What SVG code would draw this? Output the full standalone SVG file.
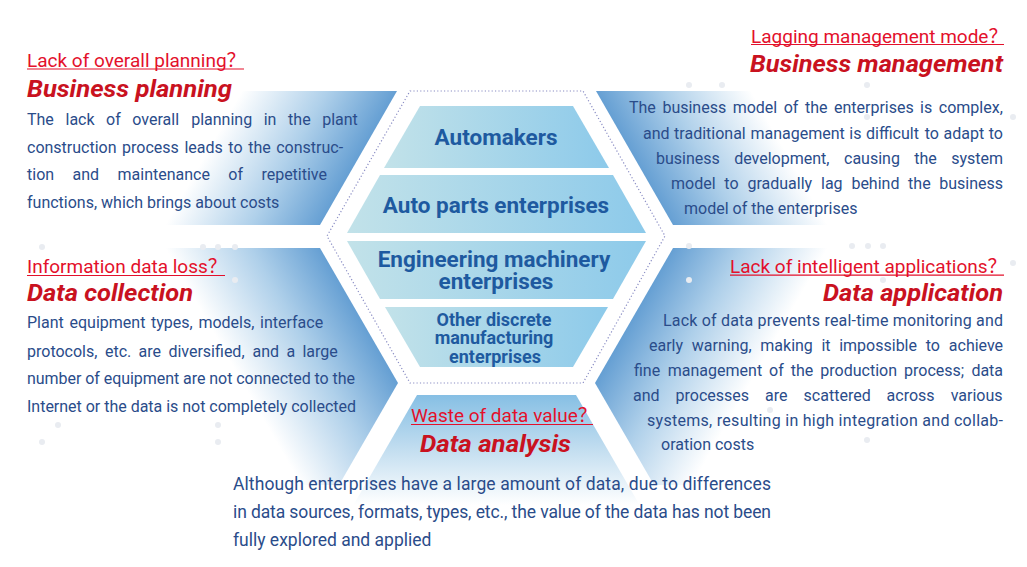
<svg xmlns="http://www.w3.org/2000/svg" width="1027" height="567" viewBox="0 0 1027 567">
<style>
.body{font-family:Roboto,"Liberation Sans",sans-serif;font-size:16px;fill:#2a4c8a}
.bbody{font-family:Roboto,"Liberation Sans",sans-serif;font-size:17.5px;fill:#2a4c8a}
.sub{font-family:Roboto,"Liberation Sans","Noto Sans CJK SC",sans-serif;font-size:19px;fill:#e3102b}
.title{font-family:Roboto,"Liberation Sans",sans-serif;font-size:24px;font-weight:bold;font-style:italic;fill:#c9121f}
.band{font-family:Roboto,"Liberation Sans",sans-serif;font-size:22.5px;font-weight:bold;fill:#1e5aa0;text-anchor:middle}
.bandS{font-family:Roboto,"Liberation Sans",sans-serif;font-size:18px;font-weight:bold;fill:#1e5aa0;text-anchor:middle}
.ul{stroke:#e3102b;stroke-width:1.2}
.dot{fill:#e9ecf1}
</style>
<defs>
<linearGradient id="gBand" x1="0" y1="0" x2="1" y2="0">
<stop offset="0" stop-color="#c2e2e9"/>
<stop offset="1" stop-color="#8dcaea"/>
</linearGradient>
<linearGradient id="gTL" gradientUnits="userSpaceOnUse" x1="359" y1="158" x2="242" y2="91">
<stop offset="0" stop-color="#659fd3"/><stop offset="0.45" stop-color="#afd0ea"/><stop offset="1" stop-color="#ffffff"/>
</linearGradient>
<linearGradient id="gTR" gradientUnits="userSpaceOnUse" x1="634" y1="158" x2="751" y2="91">
<stop offset="0" stop-color="#659fd3"/><stop offset="0.45" stop-color="#afd0ea"/><stop offset="1" stop-color="#ffffff"/>
</linearGradient>
<linearGradient id="gML" gradientUnits="userSpaceOnUse" x1="359" y1="315" x2="242" y2="382">
<stop offset="0" stop-color="#659fd3"/><stop offset="0.45" stop-color="#afd0ea"/><stop offset="1" stop-color="#ffffff"/>
</linearGradient>
<linearGradient id="gMR" gradientUnits="userSpaceOnUse" x1="634" y1="315" x2="751" y2="382">
<stop offset="0" stop-color="#659fd3"/><stop offset="0.45" stop-color="#afd0ea"/><stop offset="1" stop-color="#ffffff"/>
</linearGradient>
<linearGradient id="gB" gradientUnits="userSpaceOnUse" x1="0" y1="395" x2="0" y2="505">
<stop offset="0" stop-color="#86bfe4"/><stop offset="0.5" stop-color="#c3def0"/><stop offset="1" stop-color="#ffffff"/>
</linearGradient>
</defs>
<rect width="1027" height="567" fill="#ffffff"/>

<g id="segments">
<polygon points="0,91 397,91 320,225 0,225" fill="url(#gTL)"/>
<polygon points="596,91 1027,91 1027,225 673,225" fill="url(#gTR)"/>
<polygon points="0,248 320,248 398,383 339,485 0,485" fill="url(#gML)"/>
<polygon points="1027,248 673,248 595,383 654,485 1027,485" fill="url(#gMR)"/>
<polygon points="417,395 576,395 650,523 343,523" fill="url(#gB)"/>
</g>

<g id="dots">
<circle class="dot" cx="689" cy="85" r="3"/><circle class="dot" cx="722" cy="85" r="3"/><circle class="dot" cx="867" cy="85" r="3"/>
<circle class="dot" cx="1013" cy="117" r="3"/><circle class="dot" cx="867" cy="117" r="3"/>
<circle class="dot" cx="42" cy="247" r="3"/><circle class="dot" cx="203" cy="247" r="3"/><circle class="dot" cx="218" cy="247" r="3"/><circle class="dot" cx="235" cy="247" r="3"/>
<circle class="dot" cx="235" cy="280" r="3"/><circle class="dot" cx="58" cy="425" r="3"/><circle class="dot" cx="218" cy="425" r="3"/>
<circle class="dot" cx="42" cy="442" r="3"/><circle class="dot" cx="218" cy="442" r="3"/>
<circle class="dot" cx="689" cy="246" r="3"/><circle class="dot" cx="852" cy="246" r="3"/><circle class="dot" cx="868" cy="246" r="3"/><circle class="dot" cx="883" cy="246" r="3"/>
<circle class="dot" cx="1013" cy="263" r="3"/><circle class="dot" cx="689" cy="280" r="3"/><circle class="dot" cx="883" cy="280" r="3"/>
<circle class="dot" cx="770" cy="410" r="3"/><circle class="dot" cx="867" cy="440" r="3"/>
</g>

<g id="center-hexagon">
<polygon points="410,91 583,91 665,236 583,383 410,383 327,236" fill="none" stroke="#8a8dc4" stroke-width="1.2" stroke-dasharray="1.2 2.2"/>
</g>

<g id="node-automakers">
<polygon points="420,106 573,106 609,168 384,168" fill="url(#gBand)"/>
<text class="band" x="496" y="145">Automakers</text>
</g>
<g id="node-auto-parts">
<polygon points="380,175 613,175 646,233 347,233" fill="url(#gBand)"/>
<text class="band" x="496" y="213">Auto parts enterprises</text>
</g>
<g id="node-engineering">
<polygon points="347,241 646,241 613,299 380,299" fill="url(#gBand)"/>
<text class="band" x="494" y="267">Engineering machinery</text>
<text class="band" x="496" y="289">enterprises</text>
</g>
<g id="node-other">
<polygon points="385,307 608,307 573,367 420,367" fill="url(#gBand)"/>
<text class="bandS" x="494" y="326">Other discrete</text>
<text class="bandS" x="494" y="344">manufacturing</text>
<text class="bandS" x="495" y="363">enterprises</text>
</g>

<g id="business-planning">
<text class="sub" x="27" y="66.5">Lack of overall planning？</text>
<line class="ul" x1="27" y1="69" x2="244" y2="69"/>
<text class="title" x="27" y="97" textLength="205" lengthAdjust="spacingAndGlyphs">Business planning</text>
<text class="body" y="125"><tspan x="27">The</tspan><tspan x="65.5">lack</tspan><tspan x="106">of</tspan><tspan x="132.3">overall</tspan><tspan x="191.2">planning</tspan><tspan x="263.7">in</tspan><tspan x="288.1">the</tspan><tspan x="322.2">plant</tspan></text>
<text class="body" y="152.7"><tspan x="27">construction</tspan><tspan x="122">process</tspan><tspan x="184.4">leads</tspan><tspan x="228.3">to</tspan><tspan x="248.2">the</tspan><tspan x="276.2">construc-</tspan></text>
<text class="body" y="180.4"><tspan x="27">tion</tspan><tspan x="72.5">and</tspan><tspan x="117.5">maintenance</tspan><tspan x="228.3">of</tspan><tspan x="261.4">repetitive</tspan></text>
<text class="body" x="27" y="208">functions, which brings about costs</text>
</g>

<g id="business-management">
<text class="sub" x="751" y="42.5">Lagging management mode？</text>
<line class="ul" x1="751" y1="44.5" x2="1004" y2="44.5"/>
<text class="title" x="750" y="72" textLength="253" lengthAdjust="spacingAndGlyphs">Business management</text>
<text class="body" y="113.3"><tspan x="629">The</tspan><tspan x="662.4">business</tspan><tspan x="732.7">model</tspan><tspan x="783.7">of</tspan><tspan x="804.9">the</tspan><tspan x="834">enterprises</tspan><tspan x="920.1">is</tspan><tspan x="938.8">complex,</tspan></text>
<text class="body" y="138.7"><tspan x="643">and</tspan><tspan x="674.1">traditional</tspan><tspan x="750.5">management</tspan><tspan x="849.3">is</tspan><tspan x="866">difficult</tspan><tspan x="924.7">to</tspan><tspan x="943.6">adapt</tspan><tspan x="988.7">to</tspan></text>
<text class="body" y="164"><tspan x="656">business</tspan><tspan x="734.2">development,</tspan><tspan x="844">causing</tspan><tspan x="914.2">the</tspan><tspan x="951.2">system</tspan></text>
<text class="body" y="189"><tspan x="671">model</tspan><tspan x="724.3">to</tspan><tspan x="747.4">gradually</tspan><tspan x="821">lag</tspan><tspan x="851.4">behind</tspan><tspan x="908.1">the</tspan><tspan x="939.3">business</tspan></text>
<text class="body" x="684" y="214">model of the enterprises</text>
</g>

<g id="data-collection">
<text class="sub" x="27" y="273">Information data loss？</text>
<line class="ul" x1="27" y1="275.5" x2="225" y2="275.5"/>
<text class="title" x="27" y="301" textLength="166" lengthAdjust="spacingAndGlyphs">Data collection</text>
<text class="body" y="328.3"><tspan x="27">Plant</tspan><tspan x="69.5">equipment</tspan><tspan x="151">types,</tspan><tspan x="198.4">models,</tspan><tspan x="260">interface</tspan></text>
<text class="body" y="356.5"><tspan x="27">protocols,</tspan><tspan x="105">etc.</tspan><tspan x="138.5">are</tspan><tspan x="168.4">diversified,</tspan><tspan x="252.5">and</tspan><tspan x="286.4">a</tspan><tspan x="302.4">large</tspan></text>
<text class="body" x="27" y="384.3" textLength="328" lengthAdjust="spacing">number of equipment are not connected to the</text>
<text class="body" x="27" y="411.7" textLength="329" lengthAdjust="spacing">Internet or the data is not completely collected</text>
</g>

<g id="data-application">
<text class="sub" x="730" y="272.7">Lack of intelligent applications？</text>
<line class="ul" x1="730" y1="275.2" x2="1004" y2="275.2"/>
<text class="title" x="823" y="301" textLength="180" lengthAdjust="spacingAndGlyphs">Data application</text>
<text class="body" x="663" y="325.7" textLength="340" lengthAdjust="spacing">Lack of data prevents real-time monitoring and</text>
<text class="body" y="350.7"><tspan x="649">early</tspan><tspan x="691.8">warning,</tspan><tspan x="760.3">making</tspan><tspan x="821.4">it</tspan><tspan x="839.2">impossible</tspan><tspan x="925.7">to</tspan><tspan x="948.8">achieve</tspan></text>
<text class="body" y="375.7"><tspan x="634">fine</tspan><tspan x="667.8">management</tspan><tspan x="769">of</tspan><tspan x="790.8">the</tspan><tspan x="820.3">production</tspan><tspan x="904.1">process;</tspan><tspan x="971.4">data</tspan></text>
<text class="body" y="400.7"><tspan x="633">and</tspan><tspan x="675.5">processes</tspan><tspan x="765">are</tspan><tspan x="803.6">scattered</tspan><tspan x="886.6">across</tspan><tspan x="950.7">various</tspan></text>
<text class="body" x="647" y="425.7" textLength="356" lengthAdjust="spacing">systems, resulting in high integration and collab-</text>
<text class="body" x="661" y="450">oration costs</text>
</g>

<g id="data-analysis">
<text class="sub" x="411" y="422">Waste of data value？</text>
<line class="ul" x1="411" y1="424.5" x2="593" y2="424.5"/>
<text class="title" x="420" y="452" textLength="151" lengthAdjust="spacingAndGlyphs">Data analysis</text>
<text class="bbody" x="233" y="490" textLength="538" lengthAdjust="spacing">Although enterprises have a large amount of data, due to differences</text>
<text class="bbody" x="233" y="518" textLength="538" lengthAdjust="spacing">in data sources, formats, types, etc., the value of the data has not been</text>
<text class="bbody" x="233" y="546">fully explored and applied</text>
</g>
</svg>
